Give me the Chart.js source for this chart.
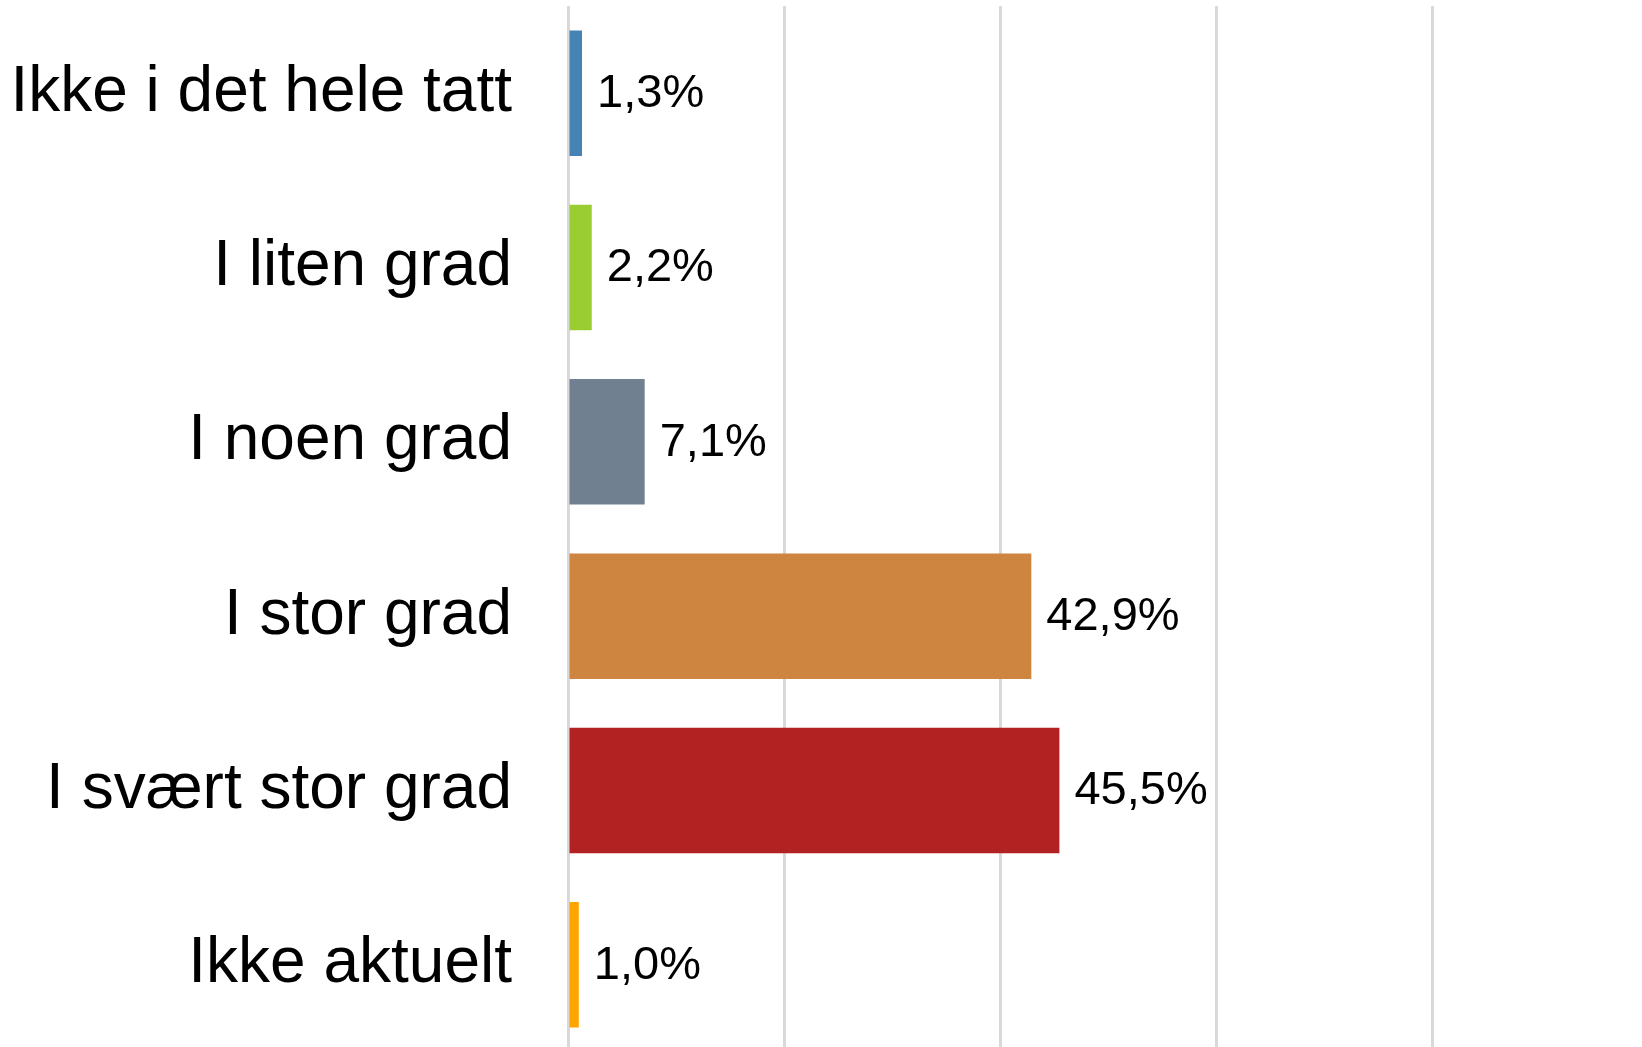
<!DOCTYPE html>
<html>
<head>
<meta charset="utf-8">
<script src="https://cdn.jsdelivr.net/npm/chart.js@4/dist/chart.umd.min.js"></script>
<style>
	html, body { margin: 0; padding: 0; background: #fff; overflow: hidden; }
	#wrap { position: absolute; left: 0; top: 0; width: 1650px; height: 1052px; }
</style>
</head>
<body>
<div id="wrap"><canvas id="mychart"></canvas></div>
<script>
const categories = ['Ikke i det hele tatt', 'I liten grad', 'I noen grad', 'I stor grad', 'I svært stor grad', 'Ikke aktuelt'];
const values = [1.3, 2.2, 7.1, 42.9, 45.5, 1.0];
const barColors = ['#4682B4', '#9ACD32', '#708090', '#CD853F', '#B22222', '#FFA500'];
const xTicks = [0, 20, 40, 60, 80, 100];

// 막대 끝에 값 표시
const valueLabelPlugin = {
	id: 'valueLabel',
	afterDatasetsDraw(chart) {
		const ctx = chart.ctx;
		const meta = chart.getDatasetMeta(0);
		ctx.save();
		ctx.font = '47px "Liberation Sans", Arial, sans-serif';
		ctx.fillStyle = '#000';
		ctx.textAlign = 'left';
		ctx.textBaseline = 'middle';
		meta.data.forEach((bar, i) => {
			const text = values[i].toFixed(1).replace('.', ',') + '%';
			ctx.fillText(text, bar.x + 15, bar.y + 1);
		});
		ctx.restore();
	}
};

new Chart(document.querySelector('#mychart'), {
	type: 'bar',
	data: {
		labels: categories,
		datasets: [{
			data: values,
			backgroundColor: barColors,
			borderWidth: 0,
			categoryPercentage: 1,
			barPercentage: 0.72
		}]
	},
	options: {
		indexAxis: 'y',
		responsive: true,
		maintainAspectRatio: false,
		animation: false,
		layout: { padding: { top: 6, right: 2, bottom: 0, left: 0 } },
		plugins: {
			legend: { display: false },
			tooltip: { enabled: false }
		},
		scales: {
			x: {
				min: xTicks[0],
				max: xTicks[xTicks.length - 1],
				afterBuildTicks(scale) {
					scale.ticks = xTicks.map(v => ({ value: v }));
				},
				afterFit(scale) {
					scale.height = 0;
					scale.paddingLeft = 0;
					scale.paddingRight = 0;
				},
				ticks: { display: false },
				grid: { color: '#d9d9d9', lineWidth: 3, drawTicks: false },
				border: { display: false }
			},
			y: {
				afterFit(scale) {
					scale.width = 568;
					scale.paddingTop = 0;
					scale.paddingBottom = 0;
				},
				ticks: {
					color: '#000',
					padding: 56,
					font: { family: '"Liberation Sans", Arial, sans-serif', size: 64 }
				},
				grid: { display: false, drawTicks: false },
				border: { display: false }
			}
		}
	},
	plugins: [valueLabelPlugin]
});
</script>
</body>
</html>
